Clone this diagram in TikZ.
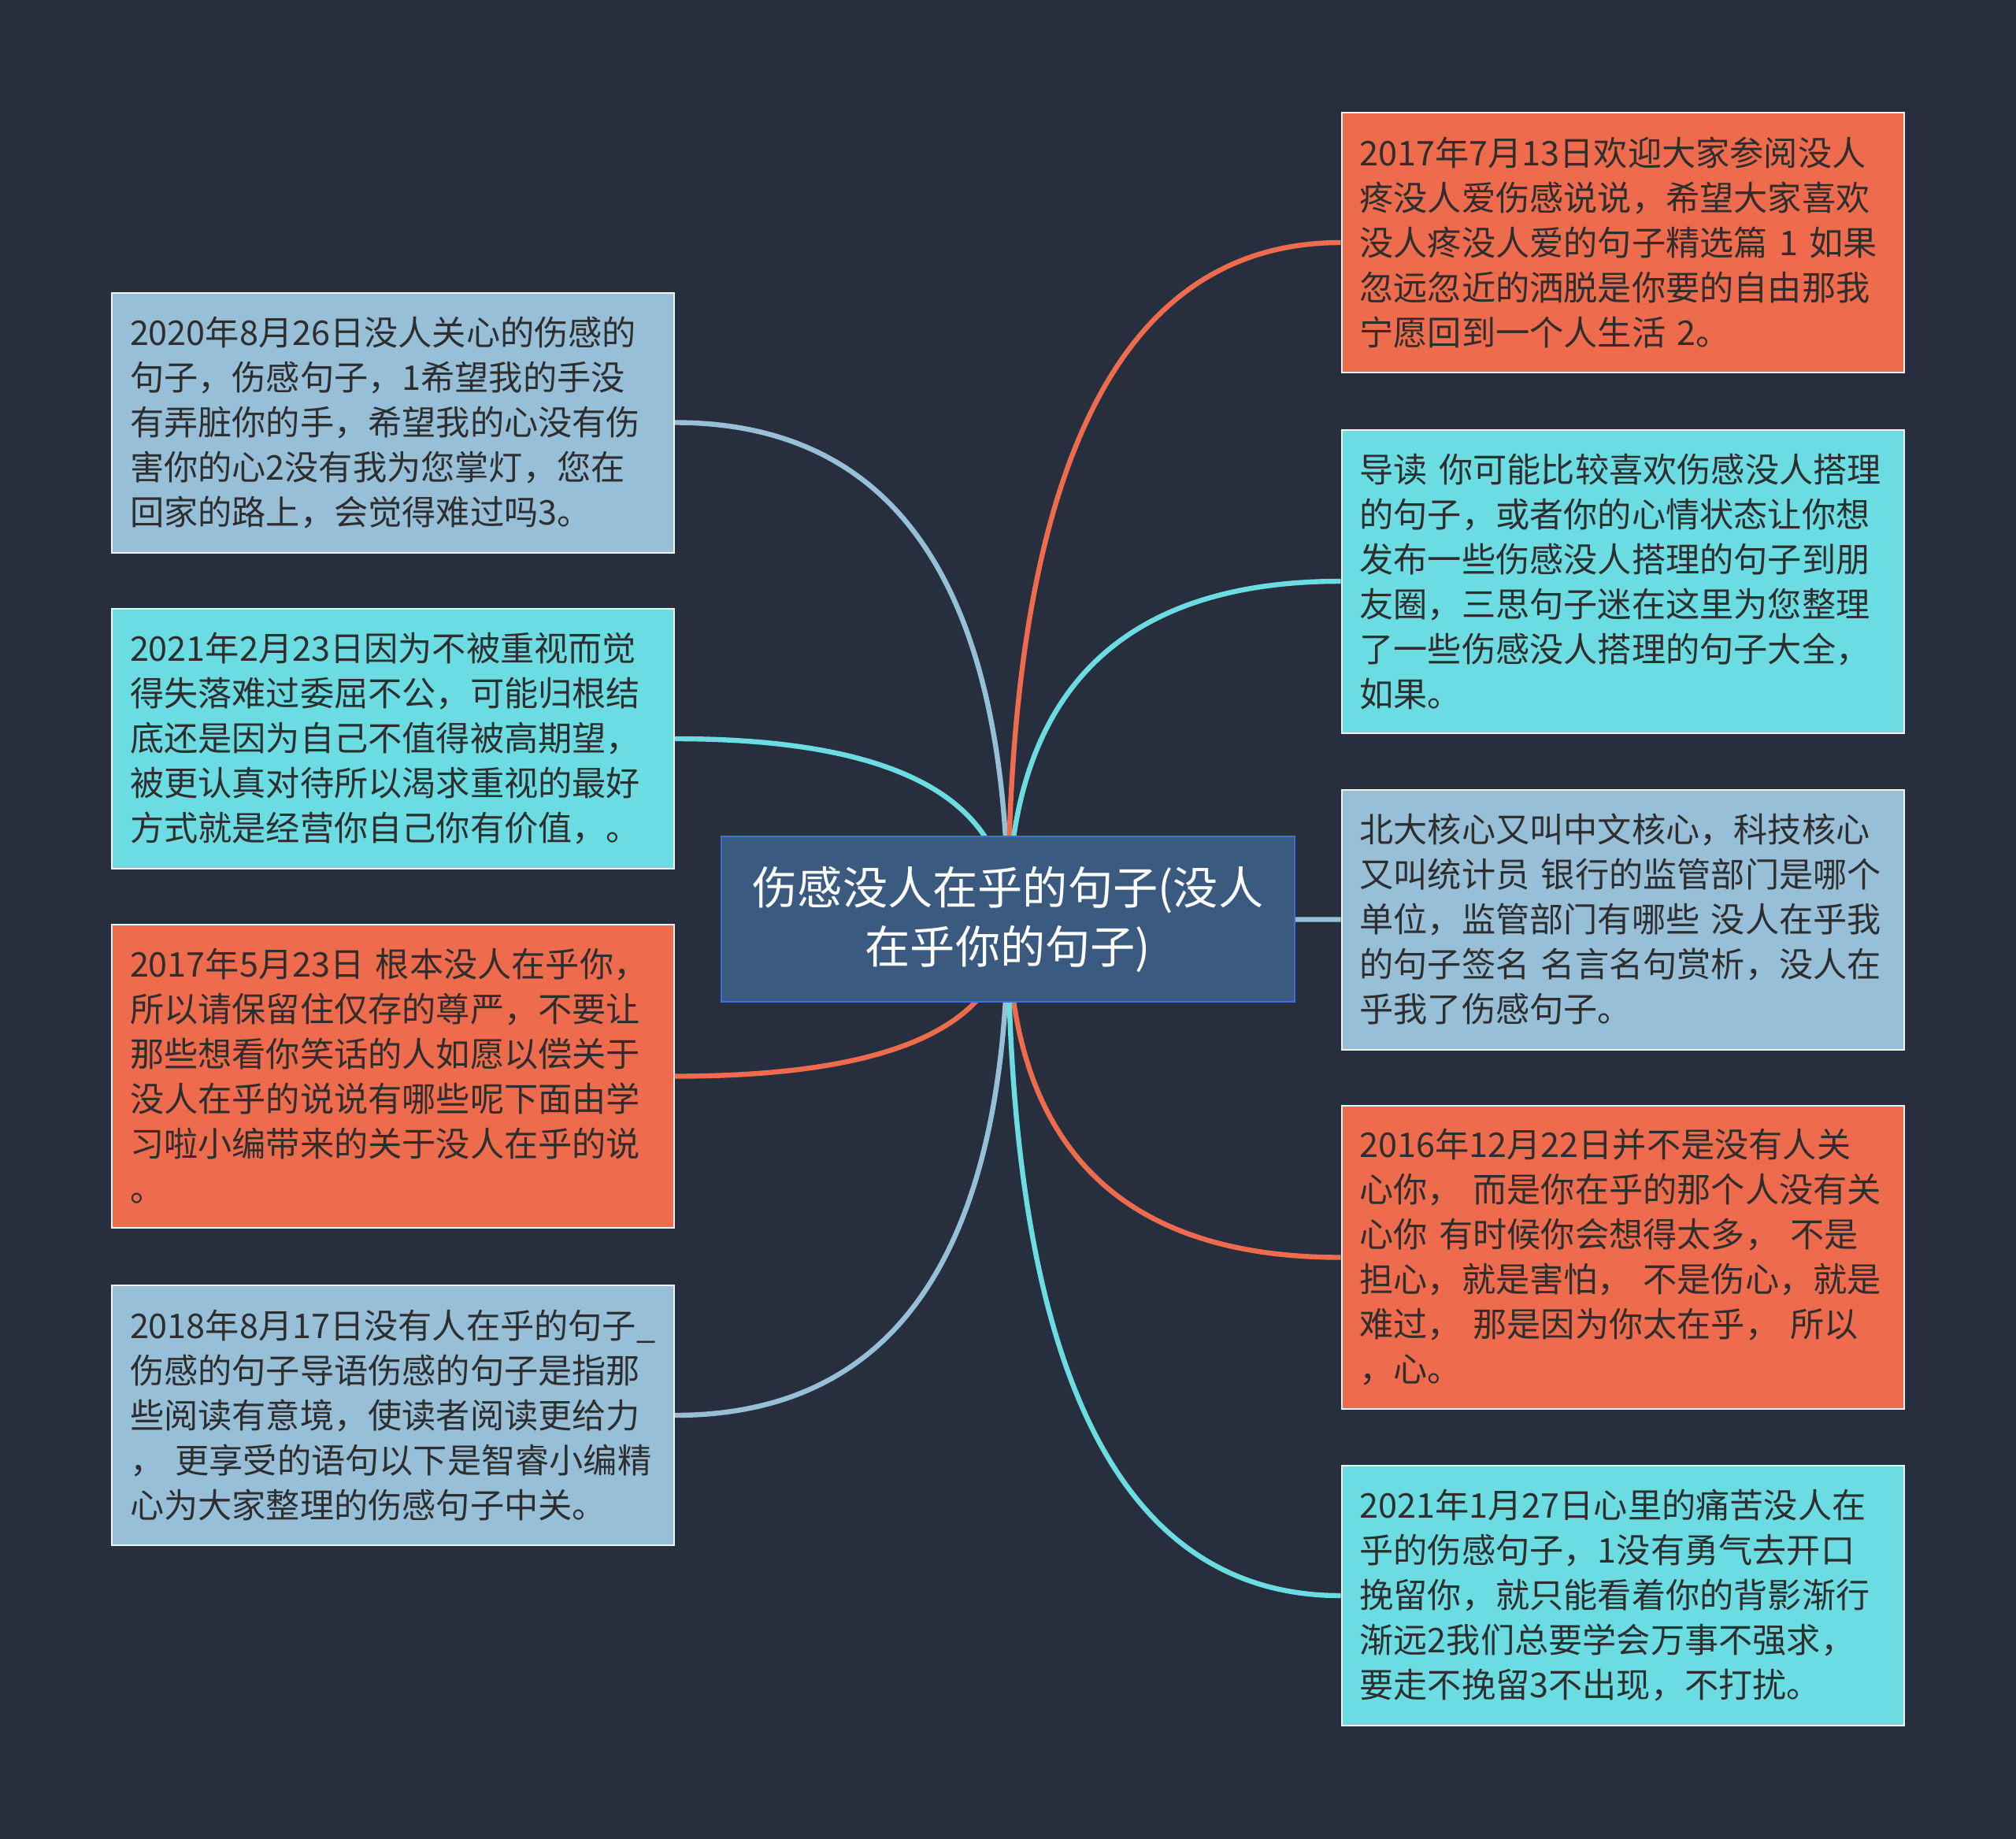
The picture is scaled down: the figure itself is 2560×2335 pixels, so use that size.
\documentclass[tikz,border=0pt]{standalone}
\usepackage{fontspec}
\setmainfont{Noto Sans CJK SC}
\usetikzlibrary{calc}
\definecolor{bgc}{HTML}{272F3E}
\definecolor{orng}{HTML}{EE6B4D}
\definecolor{lblue}{HTML}{98BFD8}
\definecolor{cyn}{HTML}{6BDCE2}
\definecolor{cfill}{HTML}{3B5A80}
\definecolor{cborder}{HTML}{3D6FD8}
\definecolor{txt}{HTML}{2E2E2E}
\pgfdeclarelayer{bglayer}
\pgfdeclarelayer{lines}
\pgfsetlayers{bglayer,lines,main}
\tikzset{
  leaf/.style={rectangle, draw=white!90!gray, line width=0.5pt, minimum width=178.5pt,
    text width=167pt, inner xsep=5.75pt, inner ysep=0pt, align=left, text=txt,
    font=\fontsize{10.8pt}{14.25pt}\selectfont},
  five/.style={minimum height=82.5pt},
  six/.style={minimum height=96.25pt},
  hub/.style={rectangle, draw=cborder, line width=0.7pt, fill=cfill, minimum width=182pt,
    minimum height=52.5pt, align=center, text=white, font=\fontsize{14.3pt}{18.75pt}\selectfont},
  conn/.style={line width=1.6pt},
}
\newcommand\joinhub[2]{%
  \draw[conn, #2] (#1) .. controls ($(#1)!0.6667!(#1 -| c.center)$) and ($(c.center)!0.6667!(#1 -| c.center)$) .. (c.center);}
\begin{document}
\begin{tikzpicture}[x=0.25pt, y=0.25pt]
\begin{pgfonlayer}{bglayer}
\fill[bgc] (0,0) rectangle (2560,-2335);
\end{pgfonlayer}
\useasboundingbox (0,0) rectangle (2560,-2335);

\node[hub] (c) at (1280,-1167) {伤感没人在乎的句子(没人\\在乎你的句子)};

\node[leaf, five, fill=lblue] (l1) at (499,-536.5) {2020年8月26日没人关心的伤感的\\句子，伤感句子，1希望我的手没\\有弄脏你的手，希望我的心没有伤\\害你的心2没有我为您掌灯，您在\\回家的路上，会觉得难过吗3。};
\node[leaf, five, fill=cyn] (l2) at (499,-938) {2021年2月23日因为不被重视而觉\\得失落难过委屈不公，可能归根结\\底还是因为自己不值得被高期望，\\被更认真对待所以渴求重视的最好\\方式就是经营你自己你有价值，。};
\node[leaf, six, fill=orng] (l3) at (499,-1366.5) {2017年5月23日 根本没人在乎你，\\所以请保留住仅存的尊严，不要让\\那些想看你笑话的人如愿以偿关于\\没人在乎的说说有哪些呢下面由学\\习啦小编带来的关于没人在乎的说\\。};
\node[leaf, five, fill=lblue] (l4) at (499,-1797) {2018年8月17日没有人在乎的句子\_\\伤感的句子导语伤感的句子是指那\\些阅读有意境，使读者阅读更给力\\， 更享受的语句以下是智睿小编精\\心为大家整理的伤感句子中关。};

\node[leaf, five, fill=orng] (r1) at (2060.5,-308) {2017年7月13日欢迎大家参阅没人\\疼没人爱伤感说说，希望大家喜欢\\没人疼没人爱的句子精选篇 1 如果\\忽远忽近的洒脱是你要的自由那我\\宁愿回到一个人生活 2。};
\node[leaf, six, fill=cyn] (r2) at (2060.5,-738) {导读 你可能比较喜欢伤感没人搭理\\的句子，或者你的心情状态让你想\\发布一些伤感没人搭理的句子到朋\\友圈，三思句子迷在这里为您整理\\了一些伤感没人搭理的句子大全，\\如果。};
\node[leaf, five, fill=lblue] (r3) at (2060.5,-1167.5) {北大核心又叫中文核心，科技核心\\又叫统计员 银行的监管部门是哪个\\单位，监管部门有哪些 没人在乎我\\的句子签名 名言名句赏析，没人在\\乎我了伤感句子。};
\node[leaf, six, fill=orng] (r4) at (2060.5,-1596.5) {2016年12月22日并不是没有人关\\心你， 而是你在乎的那个人没有关\\心你 有时候你会想得太多， 不是\\担心，就是害怕， 不是伤心，就是\\难过， 那是因为你太在乎， 所以\\，心。};
\node[leaf, five, fill=cyn] (r5) at (2060.5,-2026) {2021年1月27日心里的痛苦没人在\\乎的伤感句子，1没有勇气去开口\\挽留你，就只能看着你的背影渐行\\渐远2我们总要学会万事不强求，\\要走不挽留3不出现，不打扰。};

\begin{pgfonlayer}{lines}
\joinhub{l1.east}{lblue}
\joinhub{l2.east}{cyn}
\joinhub{l3.east}{orng}
\joinhub{l4.east}{lblue}
\joinhub{r1.west}{orng}
\joinhub{r2.west}{cyn}
\joinhub{r3.west}{lblue}
\joinhub{r4.west}{orng}
\joinhub{r5.west}{cyn}
\end{pgfonlayer}
\end{tikzpicture}
\end{document}
